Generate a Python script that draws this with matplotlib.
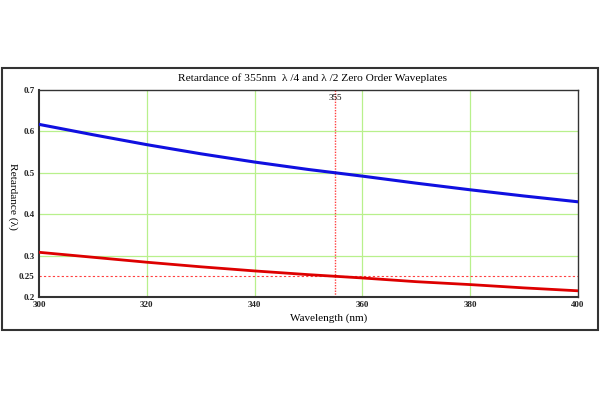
import matplotlib.pyplot as plt
from matplotlib.patches import Rectangle

# Wavelength samples (nm) and retardance (waves)
wavelength = [300, 310, 320, 330, 340, 350, 360, 370, 380, 390, 400]
quarter_wave = [0.308, 0.296, 0.284, 0.273, 0.263, 0.254, 0.246, 0.237, 0.230, 0.222, 0.215]
half_wave = [0.617, 0.592, 0.568, 0.546, 0.526, 0.508, 0.492, 0.475, 0.459, 0.444, 0.430]

design_wl = 355
design_ret = 0.25

x_ticks = [300, 320, 340, 360, 380, 400]
y_ticks = [0.2, 0.25, 0.3, 0.4, 0.5, 0.6, 0.7]
y_tick_labels = ['0.2', '0.25', '0.3', '0.4', '0.5', '0.6', '0.7']

plt.rcParams['font.family'] = ['Liberation Serif', 'DejaVu Serif']

fig = plt.figure(figsize=(6, 4), dpi=100)

# outer frame around the whole chart
fig.patches.append(Rectangle(
    (2 / 600, 70 / 400), 596 / 600, 262 / 400,
    transform=fig.transFigure, fill=False,
    edgecolor='#333333', linewidth=1.5
))

ax = fig.add_axes([0.065, 0.2575, 0.898, 0.5175])

grid_color = '#b8f08c'
for x in [320, 340, 360, 380]:
    ax.axvline(x, color=grid_color, linewidth=0.9, zorder=1)
for y in [0.3, 0.4, 0.5, 0.6]:
    ax.axhline(y, color=grid_color, linewidth=0.9, zorder=1)

ax.axvline(design_wl, color='#ff4040', linestyle=(0, (1, 1)), linewidth=1.0, zorder=2)
ax.axhline(design_ret, color='#ff4040', linestyle=(0, (2, 2)), linewidth=0.8, zorder=2)

ax.plot(wavelength, half_wave, color='#1010e0', linewidth=2.2, zorder=3)
ax.plot(wavelength, quarter_wave, color='#dd0000', linewidth=2.0, zorder=3)

ax.text(design_wl, 0.69, str(design_wl), ha='center', va='top', fontsize=6.5)

ax.set_xlim(300, 400)
ax.set_ylim(0.2, 0.7)
ax.set_xticks(x_ticks)
ax.set_yticks(y_ticks)
ax.set_yticklabels(y_tick_labels)
ax.tick_params(length=0, labelsize=6.5, pad=3)
for lbl in ax.get_xticklabels() + ax.get_yticklabels():
    lbl.set_fontweight('bold')
    lbl.set_color('#222222')

for spine in ax.spines.values():
    spine.set_linewidth(1.0)
    spine.set_color('#333333')
ax.spines['left'].set_linewidth(1.5)
ax.spines['bottom'].set_linewidth(1.5)

fig.text(0.52, 0.805, 'Retardance of 355nm  \u03bb /4 and \u03bb /2 Zero Order Waveplates',
         ha='center', va='center', fontsize=8.2)
fig.text(0.547, 0.205, 'Wavelength (nm)', ha='center', va='center', fontsize=8)
fig.text(0.022, 0.51, 'Retardance (\u03bb)', ha='center', va='center',
         rotation=-90, fontsize=8.2)

plt.savefig('out.png', dpi=100)
